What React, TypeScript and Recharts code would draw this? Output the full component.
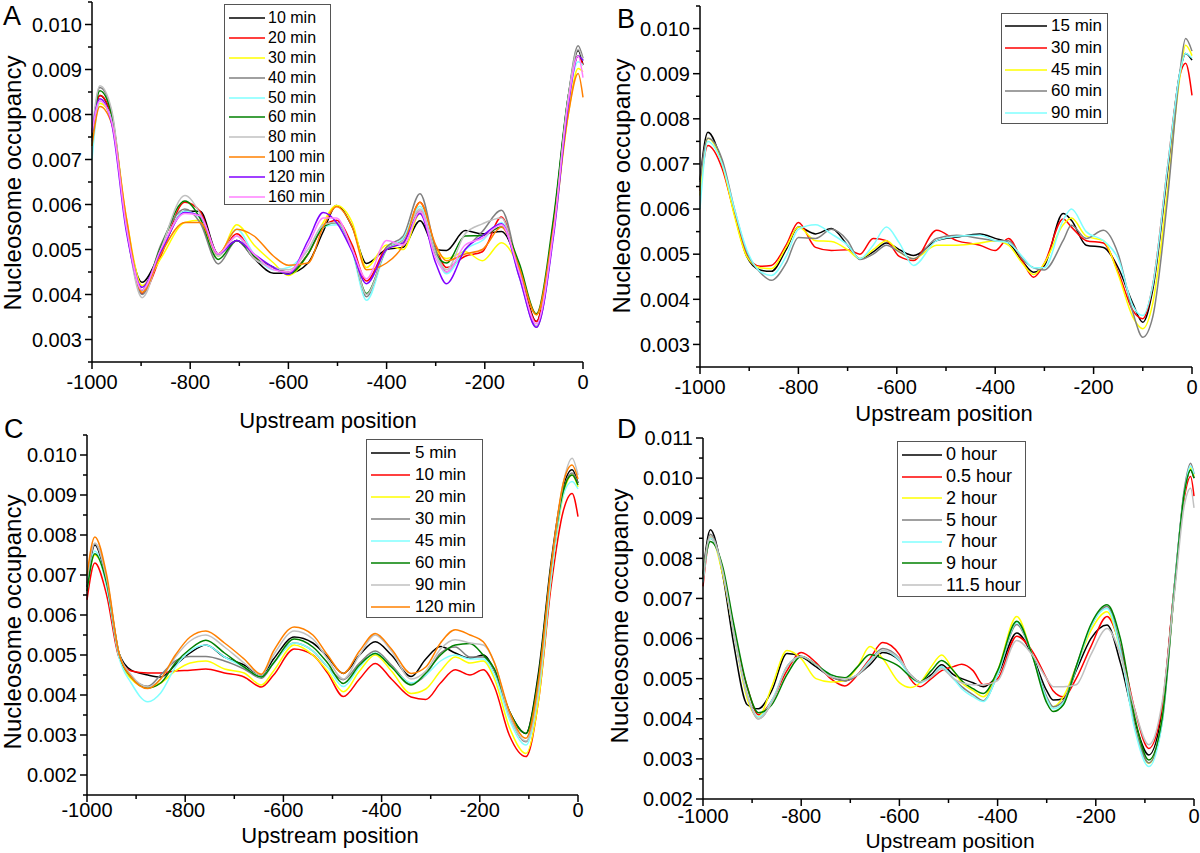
import { LineChart, Line, XAxis, YAxis } from "recharts";

// nucleosome occupancy, values in units of 1e-3 (divided by 1000 when the rows are built)

// ---- panel A ----
const xA = [-1000, -984, -960, -930, -898, -860, -811, -780, -743, -705, -670, -630, -600, -560, -529, -502, -470, -441, -400, -366, -332, -300, -278, -240, -205, -166, -130, -95, -60, -30, -10, 0];
const a10 = [7.6, 8.42, 7.9, 5.55, 4.27, 4.95, 5.85, 5.85, 4.9, 5.2, 4.8, 4.47, 4.47, 4.7, 5.4, 5.98, 5.5, 4.69, 5.0, 5.05, 5.64, 5.0, 4.98, 5.42, 5.35, 5.4, 4.6, 3.4, 5.6, 8.4, 9.42, 9.1];
const a20 = [7.5, 8.42, 7.95, 5.6, 4.02, 4.85, 6.05, 5.85, 4.9, 5.35, 4.85, 4.6, 4.5, 4.9, 5.5, 5.65, 5.1, 4.3, 5.05, 5.2, 6.05, 5.05, 4.6, 4.85, 4.95, 5.72, 4.5, 3.4, 5.5, 8.3, 9.3, 9.1];
const a30 = [7.3, 8.25, 7.9, 5.7, 4.2, 4.8, 5.6, 5.65, 4.85, 5.55, 5.1, 4.7, 4.42, 4.9, 5.6, 5.98, 5.6, 4.6, 5.1, 5.0, 5.8, 5.0, 4.8, 4.95, 4.75, 5.15, 4.6, 3.55, 5.4, 8.0, 9.02, 8.95];
const a40 = [7.4, 8.6, 8.05, 5.5, 4.0, 5.1, 5.9, 5.6, 4.68, 5.2, 4.8, 4.6, 4.5, 4.9, 5.55, 5.6, 5.0, 3.95, 5.05, 5.3, 6.24, 5.0, 4.5, 5.0, 5.4, 5.87, 4.5, 3.27, 5.4, 8.4, 9.53, 9.25];
const a50 = [7.0, 8.3, 7.9, 5.6, 4.1, 4.95, 5.85, 5.7, 4.88, 5.45, 4.9, 4.55, 4.6, 5.0, 5.5, 5.55, 4.95, 3.87, 5.0, 5.25, 5.96, 4.9, 4.46, 5.0, 5.2, 5.6, 4.4, 3.3, 5.4, 8.3, 9.17, 9.1];
const a60 = [7.5, 8.53, 8.0, 5.5, 4.1, 5.05, 6.08, 5.7, 4.78, 5.2, 4.85, 4.6, 4.45, 4.9, 5.5, 5.6, 5.0, 4.02, 5.0, 5.2, 5.85, 4.9, 4.7, 5.3, 5.31, 5.5, 4.7, 3.57, 5.7, 8.4, 9.3, 9.2];
const a80 = [7.6, 8.64, 8.1, 5.5, 3.93, 5.0, 6.2, 5.8, 4.85, 5.3, 4.8, 4.6, 4.55, 5.0, 5.55, 5.6, 5.0, 4.0, 5.0, 5.2, 5.9, 4.9, 4.55, 5.35, 5.57, 5.7, 4.4, 3.3, 5.4, 8.4, 9.45, 9.2];
const a100 = [7.3, 8.18, 7.8, 5.7, 4.05, 4.9, 5.6, 5.6, 4.9, 5.45, 5.3, 4.85, 4.65, 4.7, 5.5, 5.95, 5.5, 4.55, 4.7, 5.1, 6.05, 5.1, 4.75, 4.9, 5.0, 5.5, 4.6, 3.55, 5.5, 8.0, 8.91, 8.38];
const a120 = [7.6, 8.35, 7.8, 5.4, 4.16, 4.95, 5.82, 5.75, 4.9, 5.2, 4.9, 4.6, 4.45, 5.2, 5.82, 5.6, 4.95, 4.24, 5.0, 5.15, 5.8, 4.7, 4.24, 5.0, 5.3, 5.57, 4.4, 3.27, 5.3, 8.2, 9.3, 9.2];
const a160 = [7.6, 8.3, 7.85, 5.5, 4.1, 5.0, 5.8, 5.75, 4.9, 5.3, 4.9, 4.55, 4.5, 5.1, 5.7, 5.7, 5.0, 4.35, 5.2, 5.1, 5.85, 4.8, 4.5, 5.1, 5.25, 5.55, 4.5, 3.35, 5.4, 8.3, 9.3, 8.82];

// ---- panel B ----
const xB = [-1000, -984, -955, -930, -905, -878, -855, -825, -800, -765, -733, -700, -675, -648, -621, -595, -566, -519, -478, -431, -400, -373, -345, -322, -300, -262, -245, -215, -180, -150, -120, -100, -80, -50, -25, -13, 0];
const b15 = [6.64, 7.7, 7.0, 5.9, 4.95, 4.65, 4.62, 5.1, 5.6, 5.45, 5.57, 5.2, 4.9, 5.05, 5.25, 5.1, 4.97, 5.3, 5.38, 5.45, 5.35, 5.25, 4.85, 4.6, 4.75, 5.9, 5.75, 5.2, 5.15, 4.7, 3.9, 3.49, 4.2, 6.8, 9.0, 9.45, 9.3];
const b30 = [6.4, 7.41, 6.9, 5.9, 5.0, 4.73, 4.75, 5.2, 5.7, 5.15, 5.08, 5.1, 5.0, 5.35, 5.3, 4.95, 4.86, 5.53, 5.3, 5.2, 5.08, 5.35, 4.85, 4.49, 4.8, 5.78, 5.6, 5.3, 5.25, 4.6, 3.75, 3.57, 4.3, 6.9, 8.95, 9.23, 8.52];
const b45 = [6.3, 7.57, 7.0, 5.85, 4.95, 4.7, 4.68, 5.15, 5.6, 5.3, 5.28, 5.1, 4.9, 5.1, 5.3, 5.05, 4.9, 5.2, 5.2, 5.25, 5.3, 5.2, 4.8, 4.55, 4.8, 5.65, 5.8, 5.4, 5.3, 4.55, 3.6, 3.35, 3.9, 6.4, 8.9, 9.63, 9.4];
const b60 = [6.6, 7.57, 7.1, 6.0, 5.05, 4.6, 4.42, 4.8, 5.37, 5.35, 5.55, 5.3, 4.88, 5.0, 5.2, 5.05, 4.9, 5.35, 5.42, 5.35, 5.3, 5.3, 4.9, 4.7, 4.65, 5.3, 5.64, 5.35, 5.53, 5.0, 3.7, 3.16, 3.6, 6.2, 9.0, 9.78, 9.5];
const b90 = [6.0, 7.5, 7.0, 6.0, 5.1, 4.62, 4.53, 4.95, 5.55, 5.65, 5.45, 5.2, 4.9, 5.2, 5.6, 5.25, 4.75, 5.3, 5.4, 5.42, 5.3, 5.25, 4.95, 4.7, 4.7, 5.75, 6.0, 5.5, 5.3, 4.9, 3.85, 3.64, 4.3, 6.9, 9.0, 9.45, 9.35];

// ---- panel C ----
const xC = [-1000, -984, -960, -935, -910, -876, -850, -820, -790, -758, -720, -680, -645, -620, -578, -540, -510, -478, -445, -413, -380, -340, -310, -280, -250, -220, -193, -170, -140, -106, -80, -55, -30, -12, 0];
const c5 = [6.7, 7.75, 6.8, 5.05, 4.62, 4.5, 4.45, 4.75, 5.05, 5.25, 4.95, 4.75, 4.5, 4.9, 5.45, 5.3, 4.95, 4.54, 5.0, 5.33, 5.0, 4.46, 4.9, 5.21, 5.05, 4.92, 5.0, 4.6, 3.6, 3.04, 4.6, 7.3, 9.2, 9.63, 9.3];
const c10 = [6.38, 7.3, 6.5, 4.95, 4.6, 4.55, 4.55, 4.6, 4.62, 4.65, 4.55, 4.45, 4.2, 4.5, 5.15, 5.0, 4.55, 3.96, 4.4, 4.79, 4.4, 3.95, 3.89, 4.3, 4.63, 4.5, 4.63, 4.2, 3.0, 2.46, 3.9, 6.7, 8.6, 9.04, 8.46];
const c20 = [6.8, 7.5, 6.8, 5.0, 4.4, 4.18, 4.3, 4.6, 4.8, 4.85, 4.65, 4.55, 4.25, 4.6, 5.25, 5.0, 4.6, 4.08, 4.6, 5.0, 4.6, 4.04, 4.15, 4.6, 4.95, 4.8, 4.85, 4.4, 3.2, 2.54, 3.9, 6.9, 9.0, 9.5, 9.2];
const c30 = [6.8, 7.78, 6.9, 5.05, 4.45, 4.22, 4.5, 4.85, 4.96, 4.96, 4.85, 4.65, 4.42, 4.8, 5.3, 5.1, 4.7, 4.38, 4.8, 5.1, 4.75, 4.29, 4.5, 5.05, 5.2, 4.95, 4.95, 4.6, 3.5, 2.83, 4.2, 7.0, 9.1, 9.55, 9.3];
const c45 = [6.6, 7.6, 6.7, 4.95, 4.3, 3.83, 4.05, 4.7, 5.1, 5.25, 4.95, 4.7, 4.45, 4.8, 5.3, 5.1, 4.7, 4.21, 4.7, 5.05, 4.7, 4.3, 4.5, 4.85, 5.0, 4.9, 4.9, 4.5, 3.4, 2.75, 4.1, 6.9, 9.0, 9.34, 9.15];
const c60 = [6.6, 7.53, 6.8, 5.05, 4.45, 4.18, 4.3, 4.8, 5.15, 5.37, 5.05, 4.7, 4.45, 4.8, 5.4, 5.2, 4.8, 4.29, 4.75, 5.04, 4.7, 4.25, 4.55, 5.0, 5.25, 5.29, 5.0, 4.65, 3.6, 3.04, 4.5, 7.2, 9.1, 9.5, 9.25];
const c90 = [6.9, 7.8, 6.9, 5.05, 4.5, 4.2, 4.4, 4.95, 5.35, 5.5, 5.2, 4.8, 4.5, 5.0, 5.6, 5.4, 4.9, 4.4, 5.0, 5.5, 5.1, 4.4, 4.6, 5.15, 5.38, 5.3, 5.25, 4.8, 3.5, 2.85, 4.2, 7.1, 9.3, 9.92, 9.5];
const c120 = [7.0, 7.95, 7.0, 5.05, 4.45, 4.16, 4.4, 5.0, 5.45, 5.6, 5.3, 4.9, 4.52, 5.1, 5.7, 5.5, 5.0, 4.54, 5.1, 5.54, 5.15, 4.54, 4.7, 5.3, 5.63, 5.5, 5.33, 4.8, 3.6, 2.92, 4.4, 7.2, 9.3, 9.75, 9.4];

// ---- panel D ----
const xD = [-1000, -985, -960, -938, -910, -887, -860, -829, -800, -770, -740, -711, -685, -660, -634, -600, -578, -558, -535, -514, -490, -473, -450, -429, -400, -361, -330, -300, -287, -266, -240, -210, -177, -150, -120, -92, -65, -40, -20, -7, 0];
const d0 = [7.6, 8.71, 7.6, 5.9, 4.35, 4.25, 4.7, 5.63, 5.55, 5.3, 5.05, 4.95, 5.1, 5.35, 5.65, 5.45, 5.1, 4.92, 5.1, 5.35, 5.1, 5.0, 4.9, 4.8, 5.1, 6.14, 5.6, 4.7, 4.47, 4.5, 5.2, 6.0, 6.34, 5.4, 3.9, 3.1, 4.2, 7.3, 9.6, 10.2, 10.0];
const d05 = [7.3, 8.5, 7.7, 6.2, 4.8, 4.1, 4.45, 5.2, 5.65, 5.4, 5.0, 4.82, 5.1, 5.5, 5.9, 5.6, 5.0, 4.8, 5.0, 5.2, 5.3, 5.36, 5.2, 4.85, 5.0, 6.06, 5.7, 5.0, 4.7, 4.55, 5.0, 5.8, 6.55, 5.8, 4.2, 3.26, 4.3, 7.3, 9.5, 10.04, 9.55];
const d2 = [7.5, 8.55, 7.6, 6.2, 4.5, 4.05, 4.8, 5.7, 5.5, 5.0, 4.92, 4.95, 5.3, 5.8, 5.5, 4.9, 4.78, 4.9, 5.3, 5.59, 5.2, 4.9, 4.7, 4.55, 5.2, 6.55, 5.6, 4.5, 4.3, 4.55, 5.3, 6.2, 6.67, 5.7, 3.8, 2.89, 4.0, 7.2, 9.6, 10.25, 10.05];
const d5 = [7.5, 8.6, 7.7, 6.2, 4.6, 4.0, 4.4, 5.3, 5.55, 5.35, 5.05, 4.95, 5.1, 5.45, 5.75, 5.5, 5.1, 4.92, 5.05, 5.3, 5.0, 4.8, 4.6, 4.45, 5.1, 6.35, 5.6, 4.55, 4.3, 4.45, 5.3, 6.3, 6.8, 5.8, 3.8, 2.9, 3.9, 7.2, 9.7, 10.37, 10.1];
const d7 = [7.4, 8.5, 7.7, 6.2, 4.6, 4.05, 4.45, 5.3, 5.55, 5.35, 5.1, 5.0, 5.1, 5.45, 5.7, 5.45, 5.05, 4.9, 5.05, 5.3, 5.0, 4.75, 4.55, 4.43, 5.1, 6.4, 5.6, 4.5, 4.25, 4.4, 5.25, 6.3, 6.75, 5.7, 3.7, 2.81, 3.9, 7.3, 9.6, 10.3, 10.1];
const d9 = [7.6, 8.42, 7.8, 6.4, 4.8, 4.15, 4.35, 5.1, 5.55, 5.35, 5.1, 5.02, 5.3, 5.6, 5.5, 5.3, 5.05, 4.92, 5.2, 5.45, 5.2, 4.95, 4.75, 4.63, 5.2, 6.43, 5.6, 4.4, 4.18, 4.35, 5.3, 6.35, 6.84, 6.0, 4.0, 2.97, 4.0, 7.2, 9.6, 10.2, 10.0];
const d115 = [7.5, 8.55, 7.7, 6.2, 4.6, 4.0, 4.4, 5.3, 5.55, 5.35, 5.05, 5.0, 5.1, 5.4, 5.7, 5.5, 5.1, 4.92, 5.05, 5.25, 5.0, 4.9, 4.85, 4.85, 4.95, 5.95, 5.6, 5.0, 4.8, 4.8, 4.85, 5.6, 6.25, 5.6, 4.2, 3.35, 4.4, 7.1, 9.3, 9.75, 9.26];

// ---- axes ----
const xTicks = [-1000, -900, -800, -700, -600, -500, -400, -300, -200, -100, 0];
const yTicksAB = [0.0025, 0.003, 0.0035, 0.004, 0.0045, 0.005, 0.0055, 0.006, 0.0065, 0.007, 0.0075, 0.008, 0.0085, 0.009, 0.0095, 0.01, 0.0105];
const yTicksC = [0.0015, 0.002, 0.0025, 0.003, 0.0035, 0.004, 0.0045, 0.005, 0.0055, 0.006, 0.0065, 0.007, 0.0075, 0.008, 0.0085, 0.009, 0.0095, 0.01, 0.0105];
const yTicksD = [0.002, 0.0025, 0.003, 0.0035, 0.004, 0.0045, 0.005, 0.0055, 0.006, 0.0065, 0.007, 0.0075, 0.008, 0.0085, 0.009, 0.0095, 0.01, 0.0105, 0.011];

const BLACK = "#000000";
const RED = "#ff0000";
const YELLOW = "#ffff00";
const GREY = "#808080";
const CYAN = "#80ffff";
const GREEN = "#008000";
const LIGHT = "#c0c0c0";
const ORANGE = "#ff8000";
const PURPLE = "#8000ff";
const PINK = "#ff80ff";

const FONT = "'Liberation Sans', Arial, sans-serif";

type Series = { name: string; color: string; values: number[] };
type Box = { left: number; top: number; right: number; bottom: number };
type LegendGeom = {
  left: number; top: number; width: number; height: number;
  lineX: number; firstRow: number; rowStep: number; lineW: number; gap: number; font: number;
};

const seriesA: Series[] = [
  { name: "10 min", color: BLACK, values: a10 },
  { name: "20 min", color: RED, values: a20 },
  { name: "30 min", color: YELLOW, values: a30 },
  { name: "40 min", color: GREY, values: a40 },
  { name: "50 min", color: CYAN, values: a50 },
  { name: "60 min", color: GREEN, values: a60 },
  { name: "80 min", color: LIGHT, values: a80 },
  { name: "100 min", color: ORANGE, values: a100 },
  { name: "120 min", color: PURPLE, values: a120 },
  { name: "160 min", color: PINK, values: a160 },
];
const seriesB: Series[] = [
  { name: "15 min", color: BLACK, values: b15 },
  { name: "30 min", color: RED, values: b30 },
  { name: "45 min", color: YELLOW, values: b45 },
  { name: "60 min", color: GREY, values: b60 },
  { name: "90 min", color: CYAN, values: b90 },
];
const seriesC: Series[] = [
  { name: "5 min", color: BLACK, values: c5 },
  { name: "10 min", color: RED, values: c10 },
  { name: "20 min", color: YELLOW, values: c20 },
  { name: "30 min", color: GREY, values: c30 },
  { name: "45 min", color: CYAN, values: c45 },
  { name: "60 min", color: GREEN, values: c60 },
  { name: "90 min", color: LIGHT, values: c90 },
  { name: "120 min", color: ORANGE, values: c120 },
];
const seriesD: Series[] = [
  { name: "0 hour", color: BLACK, values: d0 },
  { name: "0.5 hour", color: RED, values: d05 },
  { name: "2 hour", color: YELLOW, values: d2 },
  { name: "5 hour", color: GREY, values: d5 },
  { name: "7 hour", color: CYAN, values: d7 },
  { name: "9 hour", color: GREEN, values: d9 },
  { name: "11.5 hour", color: LIGHT, values: d115 },
];

function YTick(props: any) {
  const { x, y, payload } = props;
  const v = payload.value as number;
  const major = Math.round(v * 10000) % 10 === 0;
  return (
    <g>
      <line x1={x} x2={x - (major ? 7 : 4)} y1={y} y2={y} stroke="#000" strokeWidth={1.5} />
      {major && (
        <text x={x - 10} y={y} dy="0.36em" textAnchor="end" fontSize={20} fontFamily={FONT} fill="#000">
          {v.toFixed(3)}
        </text>
      )}
    </g>
  );
}

function XTick(props: any) {
  const { x, y, payload, labelOffset } = props;
  const v = payload.value as number;
  const major = v % 200 === 0;
  return (
    <g>
      <line x1={x} x2={x} y1={y} y2={y + (major ? 7 : 4)} stroke="#000" strokeWidth={1.5} />
      {major && (
        <text x={x} y={y + labelOffset + 7} textAnchor="middle" fontSize={20} fontFamily={FONT} fill="#000">
          {v}
        </text>
      )}
    </g>
  );
}

function Panel({ xs, series, domain, yTicks, box, labelOffset }: {
  xs: number[]; series: Series[]; domain: [number, number]; yTicks: number[]; box: Box; labelOffset: number;
}) {
  const data = xs.map((x, i) => {
    const row: Record<string, number> = { x };
    series.forEach((s, j) => {
      row["s" + j] = s.values[i] / 1000;
    });
    return row;
  });
  const width = box.right - box.left + 100;
  const height = box.bottom - box.top + 60;
  return (
    <div style={{ position: "absolute", left: box.left - 90, top: box.top - 10 }}>
      <LineChart width={width} height={height} data={data} margin={{ top: 10, right: 10, bottom: 0, left: 0 }}>
        <XAxis
          dataKey="x"
          type="number"
          domain={[-1000, 0]}
          ticks={xTicks}
          interval={0}
          height={50}
          tickSize={0}
          tickMargin={0}
          tickLine={false}
          axisLine={{ stroke: "#000", strokeWidth: 1.5 }}
          tick={(p: any) => <XTick {...p} labelOffset={labelOffset} />}
        />
        <YAxis
          type="number"
          domain={domain}
          allowDataOverflow
          ticks={yTicks}
          interval={0}
          width={90}
          tickSize={0}
          tickMargin={0}
          tickLine={false}
          axisLine={{ stroke: "#000", strokeWidth: 1.5 }}
          tick={(p: any) => <YTick {...p} />}
        />
        {series.map((s, j) => (
          <Line
            key={s.name}
            dataKey={"s" + j}
            type="monotone"
            stroke={s.color}
            strokeWidth={1.5}
            dot={false}
            activeDot={false}
            isAnimationActive={false}
          />
        ))}
      </LineChart>
    </div>
  );
}

function LegendBox({ items, g }: { items: Series[]; g: LegendGeom }) {
  return (
    <div
      style={{
        position: "absolute", left: g.left, top: g.top, width: g.width, height: g.height,
        border: "1px solid #555", boxSizing: "border-box", background: "#fff",
        fontFamily: FONT, fontSize: g.font, color: "#000",
      }}
    >
      {items.map((s, i) => (
        <div
          key={s.name}
          style={{
            position: "absolute", left: g.lineX, top: g.firstRow + i * g.rowStep - g.rowStep / 2,
            height: g.rowStep, display: "flex", alignItems: "center", whiteSpace: "nowrap",
          }}
        >
          <svg width={g.lineW} height={4} style={{ marginRight: g.gap, display: "block" }}>
            <line x1={0} x2={g.lineW} y1={2} y2={2} stroke={s.color} strokeWidth={1.6} />
          </svg>
          <span>{s.name}</span>
        </div>
      ))}
    </div>
  );
}

const boxA: Box = { left: 92, top: 1.5, right: 583, bottom: 361.5 };
const boxB: Box = { left: 700, top: 6, right: 1192, bottom: 367 };
const boxC: Box = { left: 87, top: 435, right: 578, bottom: 795 };
const boxD: Box = { left: 703, top: 438, right: 1194, bottom: 799 };

const legA: LegendGeom = { left: 224, top: 4, width: 107, height: 201, lineX: 4, firstRow: 13, rowStep: 19.9, lineW: 36, gap: 3, font: 16 };
const legB: LegendGeom = { left: 1001, top: 13, width: 107, height: 111, lineX: 3, firstRow: 12, rowStep: 21.8, lineW: 42, gap: 4, font: 17 };
const legC: LegendGeom = { left: 366, top: 439, width: 117, height: 179, lineX: 4, firstRow: 13, rowStep: 22, lineW: 39, gap: 5, font: 17 };
const legD: LegendGeom = { left: 897, top: 441, width: 129, height: 156, lineX: 4, firstRow: 13, rowStep: 21.7, lineW: 40, gap: 4, font: 18 };

export default function App() {
  const yTitle = (bx: number, cy: number) => (
    <text x={bx} y={cy} transform={`rotate(-90, ${bx}, ${cy})`} textAnchor="middle" fontSize={24} fontFamily={FONT} fill="#000">
      Nucleosome occupancy
    </text>
  );
  const xTitle = (cx: number, by: number, size: number) => (
    <text x={cx} y={by} textAnchor="middle" fontSize={size} fontFamily={FONT} fill="#000">
      Upstream position
    </text>
  );
  return (
    <div style={{ position: "absolute", left: 0, top: 0, width: 1200, height: 853, background: "#fff", overflow: "hidden" }}>
      <Panel xs={xA} series={seriesA} domain={[0.0025, 0.0105]} yTicks={yTicksAB} box={boxA} labelOffset={20} />
      <Panel xs={xB} series={seriesB} domain={[0.0025, 0.0105]} yTicks={yTicksAB} box={boxB} labelOffset={20} />
      <Panel xs={xC} series={seriesC} domain={[0.0015, 0.0105]} yTicks={yTicksC} box={boxC} labelOffset={15} />
      <Panel xs={xD} series={seriesD} domain={[0.002, 0.011]} yTicks={yTicksD} box={boxD} labelOffset={17} />
      <LegendBox items={seriesA} g={legA} />
      <LegendBox items={seriesB} g={legB} />
      <LegendBox items={seriesC} g={legC} />
      <LegendBox items={seriesD} g={legD} />
      <svg width={1200} height={853} style={{ position: "absolute", left: 0, top: 0, pointerEvents: "none" }}>
        <text x={3} y={25} fontSize={27} fontFamily={FONT} fill="#000">A</text>
        <text x={617} y={28} fontSize={27} fontFamily={FONT} fill="#000">B</text>
        <text x={4} y={438} fontSize={27} fontFamily={FONT} fill="#000">C</text>
        <text x={617} y={438} fontSize={27} fontFamily={FONT} fill="#000">D</text>
        {yTitle(21, 183)}
        {yTitle(630, 186)}
        {yTitle(21, 622)}
        {yTitle(628, 616)}
        {xTitle(328, 428, 22)}
        {xTitle(944, 421, 22)}
        {xTitle(330, 843, 22)}
        {xTitle(950, 848, 21)}
      </svg>
    </div>
  );
}
